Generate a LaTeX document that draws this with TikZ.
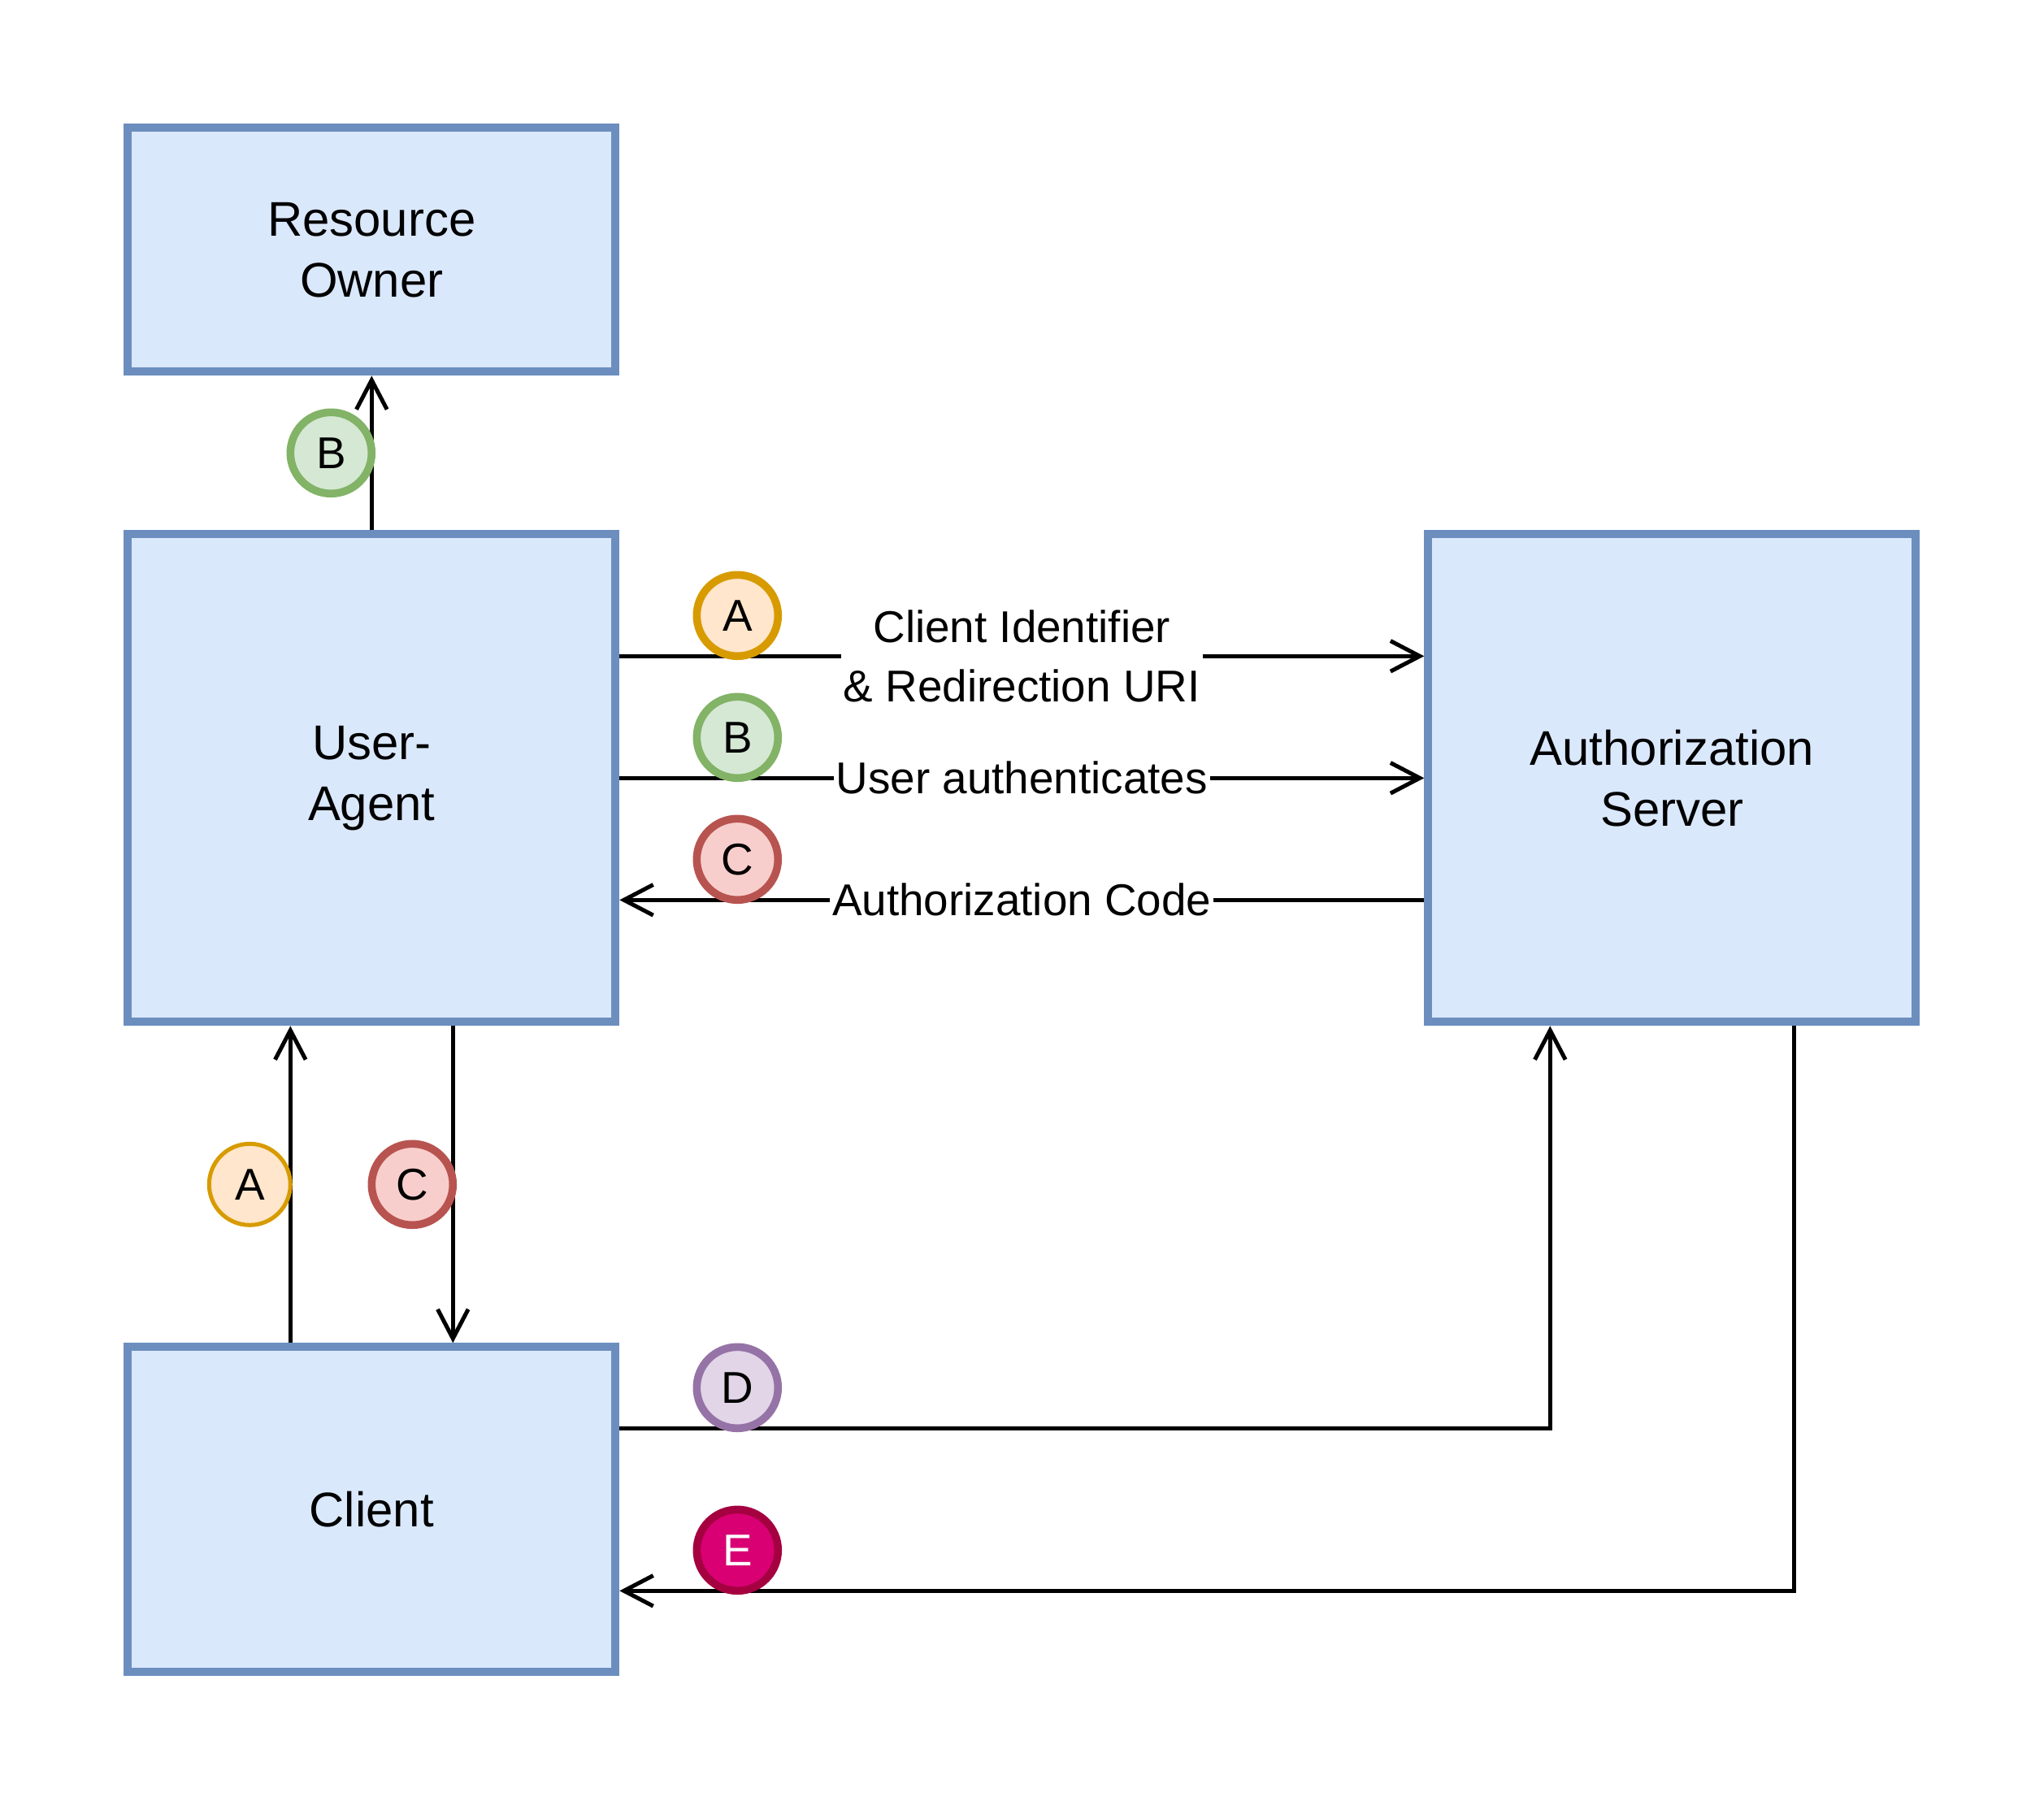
\documentclass[tikz,border=0pt]{standalone}
\usepackage{fontspec}
\setmainfont{Liberation Sans}
\usetikzlibrary{arrows.meta}

\definecolor{boxfill}{HTML}{DAE8FC}
\definecolor{boxline}{HTML}{6C8EBF}
\definecolor{orfill}{HTML}{FFE6CC}
\definecolor{orline}{HTML}{D79B00}
\definecolor{grfill}{HTML}{D5E8D4}
\definecolor{grline}{HTML}{82B366}
\definecolor{rdfill}{HTML}{F8CECC}
\definecolor{rdline}{HTML}{B85450}
\definecolor{pufill}{HTML}{E1D5E7}
\definecolor{puline}{HTML}{9673A6}
\definecolor{mgfill}{HTML}{D80073}
\definecolor{mgline}{HTML}{A50040}

\newcommand{\diafont}{\fontsize{19.5}{26.2}\selectfont}
\newcommand{\boxfont}{\fontsize{21.3}{26.7}\selectfont}

\begin{document}
\begin{tikzpicture}[x=0.0625cm, y=-0.0625cm,
  >={Straight Barb[length=0.45cm,width=0.47cm]},
  box/.style={draw=boxline, fill=boxfill, line width=3.56pt, minimum width=7.5cm,
    minimum height=#1, inner sep=0pt, align=center, font=\boxfont},
  flow/.style={->, line width=1.78pt},
  lbl/.style={fill=white, inner xsep=1pt, inner ysep=2pt, align=center, font=\diafont},
  badge/.style 2 args={circle, draw=#1, fill=#2, line width=3.4pt, minimum size=1.25cm,
    inner sep=0pt, font=\diafont}]

% page frame
\useasboundingbox (-31.46,-31.46) rectangle (471.54,410.54);

% the four parties
\node[box=3.75cm] (ro) at (60,30)  {Resource\\Owner};
\node[box=7.5cm]  (ua) at (60,160) {User-\\Agent};
\node[box=7.5cm]  (as) at (380,160) {Authorization\\Server};
\node[box=5cm]    (cl) at (60,340) {Client};

% rows and columns of the connectors
\coordinate (rowA) at (220,130);
\coordinate (rowB) at (220,160);
\coordinate (rowC) at (220,190);
\coordinate (rowD) at (0,320);
\coordinate (rowE) at (0,360);
\coordinate (colA) at (40,0);
\coordinate (colC) at (80,0);
\coordinate (colD) at (350,0);
\coordinate (colE) at (410,0);

% connectors
\draw[flow] (ua.north) -- (ro.south);
\draw[flow] (ua.east |- rowA) -- node[lbl] {Client Identifier\\\& Redirection URI} (as.west |- rowA);
\draw[flow] (ua.east |- rowB) -- node[lbl] {User authenticates} (as.west |- rowB);
\draw[flow] (as.west |- rowC) -- node[lbl] {Authorization Code} (ua.east |- rowC);
\draw[flow] (cl.north -| colA) -- (ua.south -| colA);
\draw[flow] (ua.south -| colC) -- (cl.north -| colC);
\draw[flow] (cl.east |- rowD) -| (as.south -| colD);
\draw[flow] (as.south -| colE) |- (cl.east |- rowE);

% step badges
\node[badge={grline}{grfill}] (bRO) at (50,80) {B};
\node[badge={orline}{orfill}] (bA) at (150,120) {A};
\node[badge={grline}{grfill}] (bB) at (150,150) {B};
\node[badge={rdline}{rdfill}] (bC) at (150,180) {C};
\node[badge={orline}{orfill}, line width=1.78pt] (bA2) at (30,260) {A};
\node[badge={rdline}{rdfill}] (bC2) at (70,260) {C};
\node[badge={puline}{pufill}] (bD) at (150,310) {D};
\node[badge={mgline}{mgfill}, text=white] (bE) at (150,350) {E};
\end{tikzpicture}
\end{document}
